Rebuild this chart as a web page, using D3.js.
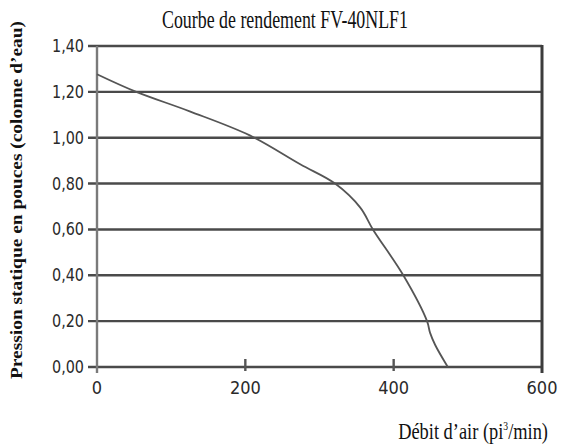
<!DOCTYPE html>
<html>
<head>
<meta charset="utf-8">
<script src="https://cdn.jsdelivr.net/npm/d3@7"></script>
<style>
  body { margin: 0; background: #fff; }
</style>
</head>
<body>
<div class="courbe"></div>
<script>
// points (debit pi3/min, pression po. d'eau)
const debit    = [0, 53, 125, 206, 274, 321, 355, 372, 413, 445, 449, 456, 473];
const pression = [1.277, 1.20, 1.115, 1.01, 0.884, 0.80, 0.695, 0.60, 0.40, 0.20, 0.15, 0.096, 0.00];
const xTicks = [0, 200, 400, 600];
const yTicks = [0, 0.2, 0.4, 0.6, 0.8, 1.0, 1.2, 1.4];

const width = 566, height = 446;
const mLeft = 97, mRight = 542, mTop = 46, mBottom = 367;

const svg = d3.select(".courbe")
    .append("svg")
        .attr("width", width)
        .attr("height", height);

const x = d3.scaleLinear().domain([0, 600]).range([mLeft, mRight]);
const y = d3.scaleLinear().domain([0, 1.4]).range([mBottom, mTop]);

const sansFont = "'Liberation Sans Narrow', 'DejaVu Sans Condensed', sans-serif";
const serifFont = "'Liberation Serif', 'DejaVu Serif Condensed', serif";

// lignes horizontales (grille)
svg.append("g")
    .selectAll("line")
    .data(yTicks)
    .join("line")
        .attr("x1", mLeft - 9)
        .attr("x2", mRight)
        .attr("y1", d => y(d))
        .attr("y2", d => y(d))
        .attr("stroke", "#4a4a4a")
        .attr("stroke-width", 2.4);

// axes verticaux
svg.append("line")
    .attr("x1", mLeft).attr("x2", mLeft)
    .attr("y1", mTop).attr("y2", mBottom + 6)
    .attr("stroke", "#7a7a7a")
    .attr("stroke-width", 2.4);

svg.append("line")
    .attr("x1", mRight).attr("x2", mRight)
    .attr("y1", mTop - 1).attr("y2", mBottom + 6)
    .attr("stroke", "#3c3c3c")
    .attr("stroke-width", 3);

// petites graduations en x
svg.append("g")
    .selectAll("line")
    .data(xTicks.slice(1, 3))
    .join("line")
        .attr("x1", d => x(d)).attr("x2", d => x(d))
        .attr("y1", mBottom - 8).attr("y2", mBottom + 4)
        .attr("stroke", "#555")
        .attr("stroke-width", 2.4);

// etiquettes y
svg.append("g")
    .selectAll("text")
    .data(yTicks)
    .join("text")
        .attr("x", mLeft - 13)
        .attr("y", d => y(d) + 6)
        .attr("text-anchor", "end")
        .attr("font-family", sansFont)
        .attr("font-size", 18)
        .attr("textLength", 32)
        .attr("lengthAdjust", "spacingAndGlyphs")
        .attr("fill", "#2a2a2a")
        .text(d => d3.format(".2f")(d).replace(".", ","));

// etiquettes x
svg.append("g")
    .selectAll("text")
    .data(xTicks)
    .join("text")
        .attr("x", d => x(d))
        .attr("y", mBottom + 27)
        .attr("text-anchor", "middle")
        .attr("font-family", sansFont)
        .attr("font-size", 18)
        .attr("fill", "#2a2a2a")
        .text(d => d);

// courbe de rendement
const line = d3.line()
    .x((d, i) => x(debit[i]))
    .y(d => y(d))
    .curve(d3.curveCatmullRom.alpha(0.5));

svg.append("path")
    .attr("d", line(pression))
    .attr("fill", "none")
    .attr("stroke", "#555")
    .attr("stroke-width", 1.8);

// titre
svg.append("text")
    .attr("x", 285)
    .attr("y", 28)
    .attr("text-anchor", "middle")
    .attr("font-family", serifFont)
    .attr("font-size", 26)
    .attr("textLength", 246)
    .attr("lengthAdjust", "spacingAndGlyphs")
    .attr("fill", "#111")
    .text("Courbe de rendement FV-40NLF1");

// titre axe y
svg.append("text")
    .attr("transform", "translate(22, 200) rotate(-90)")
    .attr("text-anchor", "middle")
    .attr("font-family", serifFont)
    .attr("font-weight", "bold")
    .attr("font-size", 17)
    .attr("textLength", 358)
    .attr("lengthAdjust", "spacingAndGlyphs")
    .attr("fill", "#111")
    .text("Pression statique en pouces (colonne d’eau)");

// titre axe x (condense par une mise a l'echelle)
const xt = svg.append("text")
    .attr("transform", "translate(548, 439) scale(0.8, 1)")
    .attr("text-anchor", "end")
    .attr("font-family", serifFont)
    .attr("font-size", 23)
    .attr("fill", "#111");
xt.append("tspan").text("Débit d’air (pi");
xt.append("tspan").attr("font-size", 12).attr("dy", -9).text("3");
xt.append("tspan").attr("dy", 9).text("/min)");
</script>
</body>
</html>
